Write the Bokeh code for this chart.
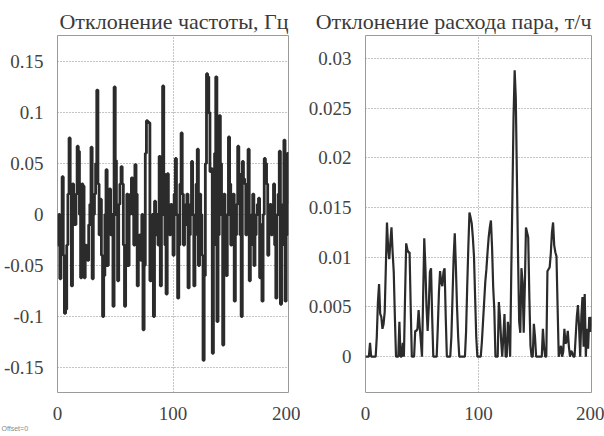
from bokeh.plotting import figure
from bokeh.layouts import row
from bokeh.models import FixedTicker, Title, Range1d
from bokeh.embed import file_html
from bokeh.resources import INLINE

# ---------------- data ----------------
freq_dev = [
    -0.03, 0.0, -0.063, -0.02, 0.037, -0.04, -0.097, -0.093, -0.03, 0.02,
    0.075, 0.03, -0.07, 0.03, 0.015, -0.01, 0.02, 0.067, 0.062, 0.0,
    -0.062, 0.03, 0.028, -0.062, -0.03, -0.035, -0.045, -0.01, 0.01, 0.066,
    -0.063, 0.0, 0.02, 0.05, 0.122, 0.03, -0.02, 0.015, -0.04, -0.1,
    -0.06, 0.0, 0.044, -0.05, 0.01, 0.025, -0.02, 0.0, -0.09, 0.125,
    0.053, 0.0, -0.065, 0.01, 0.03, 0.047, 0.03, -0.03, -0.09, -0.04,
    0.02, -0.05, 0.0, 0.02, 0.036, 0.0, -0.03, 0.049, 0.02, -0.07,
    -0.04, -0.02, -0.045, 0.0, -0.113, -0.05, 0.06, 0.092, 0.091, 0.09,
    -0.065, -0.02, 0.0, -0.1, 0.013, -0.02, 0.0, -0.03, 0.057, -0.07,
    0.0, 0.126, 0.04, -0.03, -0.078, 0.04, 0.0, -0.02, 0.01, -0.01,
    -0.04, 0.02, 0.055, 0.0, -0.082, -0.03, 0.03, 0.08, 0.02, -0.03,
    -0.01, 0.01, 0.02, -0.072, -0.02, 0.01, 0.052, 0.0, -0.07, -0.02,
    0.03, 0.064, -0.05, 0.02, 0.0, -0.04, -0.143, -0.06, 0.05, 0.138,
    0.135, 0.1, 0.042, 0.045, -0.136, -0.03, 0.06, 0.135, -0.105, -0.02,
    0.097, 0.05, 0.0, -0.128, 0.02, -0.02, -0.06, 0.0, 0.076, 0.03,
    -0.03, 0.0, 0.02, -0.085, -0.02, 0.01, 0.067, 0.04, -0.02, -0.1,
    0.052, 0.035, 0.03, -0.02, 0.0, 0.064, -0.065, -0.03, 0.0, 0.02,
    -0.05, -0.02, 0.0, 0.01, 0.016, -0.062, -0.01, -0.085, 0.0, 0.055,
    0.05, 0.03, -0.04, 0.0, 0.01, -0.02, 0.0, 0.03, -0.03, -0.082,
    0.0, 0.02, 0.062, -0.088, -0.03, 0.01, 0.073, -0.085, -0.02, 0.06,
    0.01,
]

steam_dev = [
    0, 0, 0, 0, 0.0014, 0, 0, 0, 0, 0,
    0.002, 0.0055, 0.0073, 0.0043, 0.004, 0.0028, 0.0033, 0.0045, 0.009, 0.0135,
    0.011, 0.0098, 0.0115, 0.013, 0.0105, 0.0085, 0.004, 0, 0, 0,
    0.0035, 0, 0, 0.0014, 0, 0.006, 0.0114, 0.0108, 0.0105, 0.0105,
    0.005, 0, 0, 0, 0.0026, 0.0026, 0.0028, 0.0047, 0.003, 0.0015,
    0, 0.006, 0.0119, 0.009, 0.005, 0.0026, 0.005, 0.0085, 0.0089, 0.004,
    0, 0, 0, 0, 0.003, 0.0065, 0.0086, 0.0075, 0.0071, 0.0085,
    0.0089, 0.004, 0, 0, 0, 0, 0.002, 0.006, 0.01, 0.0124,
    0.009, 0.005, 0.002, 0, 0, 0, 0, 0, 0, 0.0025,
    0.007, 0.011, 0.0145, 0.014, 0.0134, 0.012, 0.0101, 0.006, 0.002, 0,
    0, 0, 0, 0.0015, 0.0035, 0.0055, 0.0075, 0.0088, 0.0105, 0.012,
    0.013, 0.0137, 0.011, 0.007, 0.0047, 0, 0, 0, 0.0055, 0.004,
    0.0017, 0, 0.002, 0.0043, 0, 0, 0.0035, 0.0024, 0, 0.0085,
    0.016, 0.024, 0.0288, 0.026, 0.018, 0.01, 0.0035, 0.0024, 0.0089, 0.0075,
    0.0024, 0.007, 0.013, 0.0125, 0.012, 0.006, 0.0011, 0, 0, 0.0033,
    0.002, 0, 0, 0, 0, 0, 0, 0.0028, 0.001, 0,
    0, 0.0086, 0.0088, 0.009, 0.0104, 0.0125, 0.0135, 0.0112, 0.0105, 0.0101,
    0.005, 0, 0.0005, 0.0011, 0, 0.0005, 0.0028, 0.0013, 0.0015, 0.0026,
    0.001, 0, 0.0006, 0.0004, 0, 0, 0.002, 0.004, 0.0052, 0.003,
    0, 0.004, 0.006, 0.001, 0.0063, 0, 0.0028, 0.0008, 0.004, 0.0025,
    0.004,
]

t = list(range(len(freq_dev)))

x_ticks = [0, 100, 200]
x_tick_labels = ["0", "100", "200"]
left_y_ticks = [-0.15, -0.1, -0.05, 0, 0.05, 0.1, 0.15]
left_y_labels = ["-0.15", "-0.1", "-0.05", "0", "0.05", "0.1", "0.15"]
right_y_ticks = [0, 0.005, 0.01, 0.015, 0.02, 0.025, 0.03]
right_y_labels = ["0", "0.005", "0.01", "0.015", "0.02", "0.025", "0.03"]

left_title = "Отклонение частоты, Гц"
right_title = "Отклонение расхода пара, т/ч"
note = "Offset=0"

FONT = "Liberation Serif"
LINE_COLOR = "#2b2b2b"


def style(p, yt, yl):
    p.xaxis.ticker = FixedTicker(ticks=x_ticks)
    p.xaxis.major_label_overrides = {k: v for k, v in zip(x_ticks, x_tick_labels)}
    p.yaxis.ticker = FixedTicker(ticks=yt)
    p.yaxis.major_label_overrides = {k: v for k, v in zip(yt, yl)}
    p.axis.axis_line_color = None
    p.axis.major_tick_line_color = None
    p.axis.minor_tick_line_color = None
    p.axis.major_label_text_font = FONT
    p.axis.major_label_text_font_size = "19px"
    p.axis.major_label_text_color = "#444444"
    p.axis.major_label_standoff = 8
    p.xgrid.ticker = FixedTicker(ticks=x_ticks)
    p.ygrid.ticker = FixedTicker(ticks=yt)
    p.grid.grid_line_color = "#8a8a8a"
    p.grid.grid_line_dash = "1 2"
    p.grid.grid_line_width = 1
    p.outline_line_color = "#9a9a9a"
    p.outline_line_width = 1
    p.title.text_font = FONT
    p.title.text_font_size = "22px"
    p.title.text_font_style = "normal"
    p.title.text_color = "#3a3a3a"
    p.title.align = "right"
    p.title.standoff = 3
    p.background_fill_color = "white"
    p.border_fill_color = "white"


p1 = figure(width=300, height=436, x_range=Range1d(0, 200),
            y_range=Range1d(-0.1745, 0.1755), title=left_title,
            output_backend="svg", toolbar_location=None,
            min_border_left=57, min_border_right=12,
            min_border_top=35, min_border_bottom=44)
style(p1, left_y_ticks, left_y_labels)
p1.step(t, freq_dev, mode="after", line_color=LINE_COLOR, line_width=2.8)
p1.add_layout(Title(text=note, text_font="Liberation Sans", text_font_size="7px",
                    text_font_style="normal", text_color="#888888",
                    align="left", offset=-56, standoff=0), "below")

p2 = figure(width=304, height=436, x_range=Range1d(0, 200),
            y_range=Range1d(-0.0036, 0.0323), title=right_title,
            output_backend="svg", toolbar_location=None,
            min_border_left=65, min_border_right=13,
            min_border_top=35, min_border_bottom=39)
style(p2, right_y_ticks, right_y_labels)
p2.line(t, steam_dev, line_color=LINE_COLOR, line_width=2.2)

layout = row(p1, p2)
open("out.html", "w").write(file_html(layout, INLINE))
